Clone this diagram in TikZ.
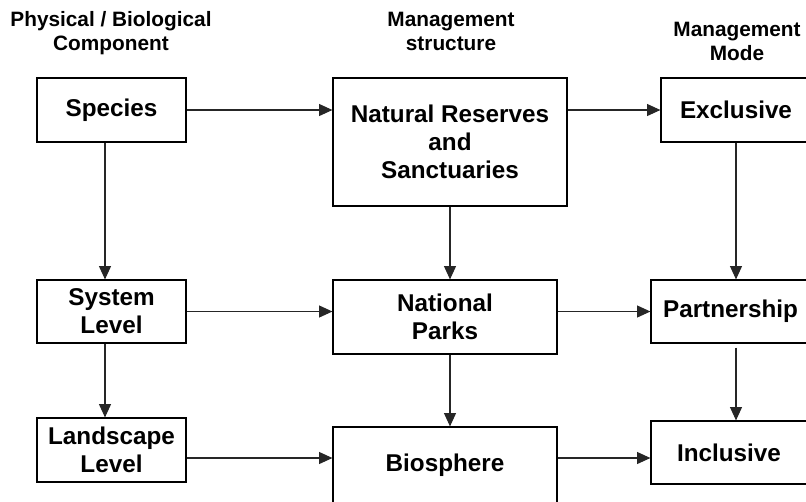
\documentclass[tikz,border=0pt]{standalone}
\usepackage{fontspec}
\setmainfont{Liberation Sans}
\usetikzlibrary{arrows.meta}

\begin{document}
\begin{tikzpicture}[x=0.75pt,y=-0.75pt,line join=miter,>={Triangle[length=10pt,width=9pt]},
	box/.style={draw,line width=0.9pt,inner sep=0pt,align=center,font=\fontsize{18.2}{21.2}\selectfont\bfseries},
	head/.style={anchor=base,align=center,inner sep=0pt,font=\fontsize{15.6}{18}\selectfont\bfseries},
	link/.style={->,line width=0.8pt,draw=black!85}]
	\useasboundingbox (0,0) rectangle (806,501);
	\clip (0,0) rectangle (806,501);
	% column titles (base = last line)
	\node[head] (hphys) at (111,50) {Physical / Biological\\Component};
	\node[head] (hstruct) at (451,50) {Management\\structure};
	\node[head] (hmode) at (737,60) {Management\\Mode};
	% boxes
	\node[box,minimum width=111.75pt,minimum height=48pt] (species) at (111.5,110) {Species};
	\node[box,minimum width=175.5pt,minimum height=96pt] (nrs) at (450,142) {Natural Reserves\\and\\Sanctuaries};
	\node[box,minimum width=112.5pt,minimum height=48pt] (excl) at (736,110) {Exclusive};
	\node[box,minimum width=111.75pt,minimum height=47.25pt] (system) at (111.5,311.5) {System\\Level};
	\node[box,minimum width=168pt,minimum height=55.5pt] (parks) at (445,317) {National\\Parks};
	\node[box,minimum width=119.25pt,minimum height=47.25pt] (partner) at (730.5,311.5) {Partnership};
	\node[box,minimum width=111.75pt,minimum height=48pt] (landscape) at (111.5,450) {Landscape\\Level};
	\node[box,minimum width=168pt,minimum height=57pt] (bio) at (445,465) {Biosphere};
	\node[box,minimum width=117pt,minimum height=47.25pt] (incl) at (729,452.5) {Inclusive};
	% connectors
	\coordinate (col1) at (105,0);
	\coordinate (col2) at (450,0);
	\coordinate (col3) at (736,0);
	\coordinate (row3) at (0,458);
	\draw[link] (species.east) -- (species.east -| nrs.west);
	\draw[link] (excl.west -| nrs.east) -- (excl.west);
	\draw[link] (system.east) -- (system.east -| parks.west);
	\draw[link] (partner.west -| parks.east) -- (partner.west);
	\draw[link] (landscape.east |- row3) -- (bio.west |- row3);
	\draw[link] (bio.east |- row3) -- (incl.west |- row3);
	\draw[link] (species.south -| col1) -- (system.north -| col1);
	\draw[link] (system.south -| col1) -- (landscape.north -| col1);
	\draw[link] (nrs.south -| col2) -- (parks.north -| col2);
	\draw[link] (parks.south -| col2) -- (bio.north -| col2);
	\draw[link] (excl.south -| col3) -- (partner.north -| col3);
	\draw[link,shorten <=3pt] (partner.south -| col3) -- (incl.north -| col3);
\end{tikzpicture}
\end{document}
